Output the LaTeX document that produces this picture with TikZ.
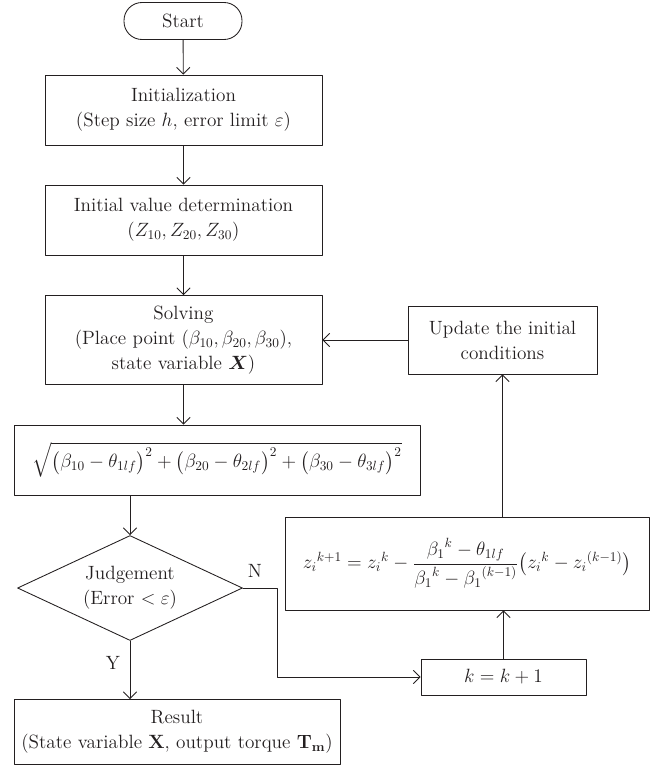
\documentclass[tikz,border=0pt]{standalone}
\usepackage{amsmath,amssymb,bm}
\usepackage{tikz}
\usetikzlibrary{arrows.meta}
\usetikzlibrary{shapes.geometric}
\newcommand{\px}{0.75pt}
\definecolor{ink}{HTML}{231F20}

\begin{document}
\begin{tikzpicture}[line cap=round,line join=round,x=\px,y=-\px,color=ink,
  proc/.style={draw,line width=0.65pt,rectangle,inner sep=2pt,align=center,
    font=\fontsize{14.4}{18.75}\selectfont},
  term/.style={proc,rounded corners=18*\px},
  decide/.style={draw,line width=0.65pt,diamond,aspect=2.14,inner sep=0pt,align=center,
    font=\fontsize{14.4}{18.75}\selectfont},
  flow/.style={draw,line width=0.65pt,-{Straight Barb[length=5pt,width=10pt]}},
  lbl/.style={font=\fontsize{14.4}{18}\selectfont}]
\useasboundingbox (0,0) rectangle (665,771);
% left column
\node[term,minimum width=118*\px,minimum height=37*\px] (start) at (183,21) {Start};
\node[proc,minimum width=277*\px,minimum height=70*\px] (init) at (183.5,110)
  {Initialization\\(Step size $h$, error limit $\varepsilon$)};
\node[proc,minimum width=277*\px,minimum height=70*\px] (initval) at (183.5,220)
  {Initial value determination\\$(Z_{10},Z_{20},Z_{30})$};
\node[proc,minimum width=277*\px,minimum height=89*\px] (solve) at (183.5,340)
  {Solving\\(Place point $(\beta_{10},\beta_{20},\beta_{30})$,\\state variable $\bm{X}$)};
\node[proc,minimum width=406*\px,minimum height=70*\px] (dist) at (217,460)
  {$\sqrt{\bigl(\beta_{10}-\theta_{1lf}\bigr)^2+\bigl(\beta_{20}-\theta_{2lf}\bigr)^2+\bigl(\beta_{30}-\theta_{3lf}\bigr)^2}$};
\node[decide,minimum width=225*\px,minimum height=105*\px] (judge) at (130,588)
  {Judgement\\(Error $<\varepsilon$)};
\node[proc,minimum width=326*\px,minimum height=65*\px] (result) at (177,732)
  {Result\\(State variable $\mathbf{X}$, output torque $\mathbf{T}_{\mathbf{m}}$)};
% right column
\node[proc,minimum width=189*\px,minimum height=68*\px] (update) at (502.5,340)
  {Update the initial\\conditions};
\node[proc,minimum width=364*\px,minimum height=93*\px] (newz) at (467,563.5)
  {${z_i}^{k+1}={z_i}^{k}-\dfrac{{\beta_1}^{k}-\theta_{1lf}}{{\beta_1}^{k}-{\beta_1}^{(k-1)}}\bigl({z_i}^{k}-{z_i}^{(k-1)}\bigr)$};
\node[proc,minimum width=165*\px,minimum height=36*\px] (kinc) at (503.5,677) {$k=k+1$};
\coordinate (turn) at (277,588);

\draw[flow] (start) -- (init);
\draw[flow] (init) -- (initval);
\draw[flow] (initval) -- (solve);
\draw[flow] (solve.south) -- (solve.south |- dist.north);
\draw[flow] (judge.north |- dist.south) -- (judge.north);
\draw[flow] (judge.south) -- (judge.south |- result.north);
\draw[flow] (judge.east) -- (turn) |- (kinc.west);
\draw[flow] (kinc.north) -- (kinc.north |- newz.south);
\draw[flow] (update.south |- newz.north) -- (update.south);
\draw[flow] (update.west) -- (solve.east);
\node[lbl] (nlab) at (255,571) {N};
\node[lbl] (ylab) at (113,663) {Y};
\end{tikzpicture}
\end{document}
